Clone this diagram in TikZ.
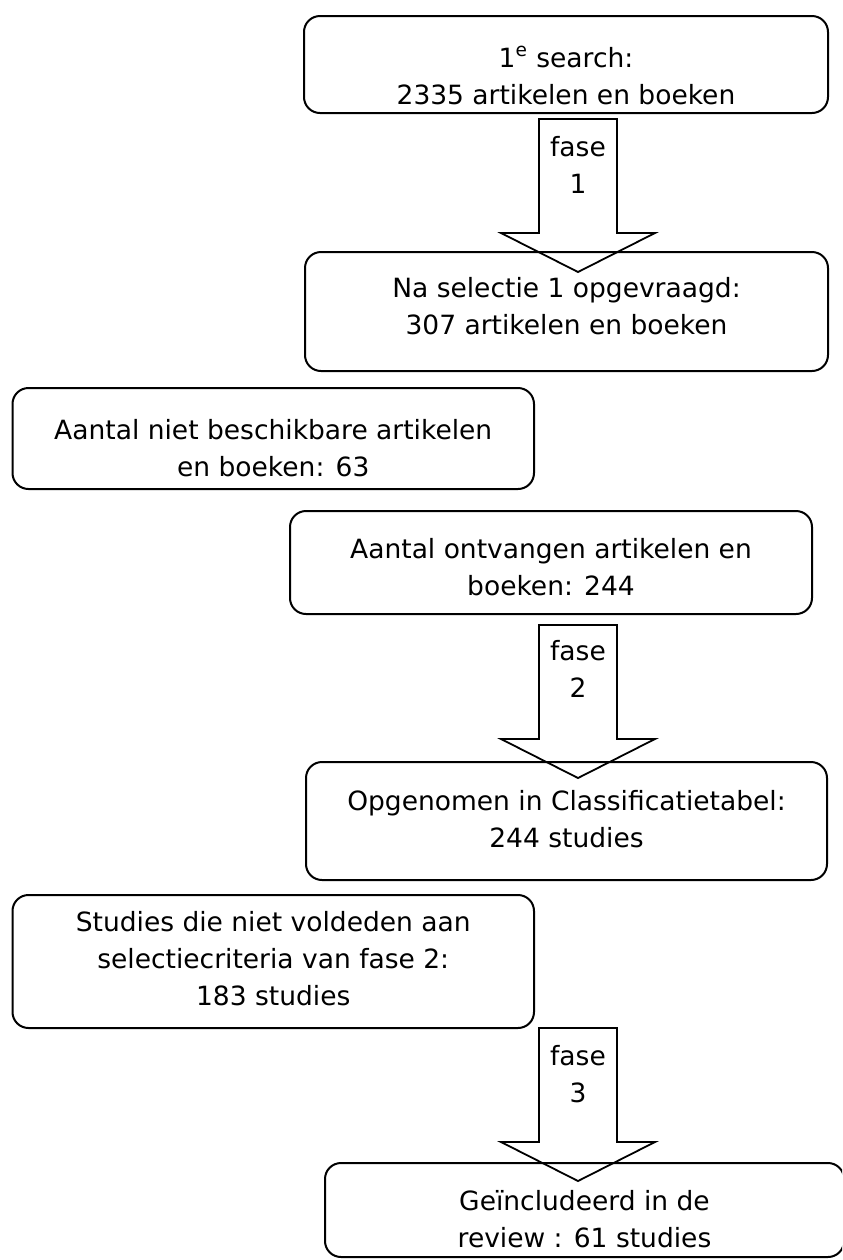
\documentclass[tikz,border=0pt]{standalone}
\usepackage{fontspec}
\setmainfont{DejaVu Sans}
\begin{document}
\begin{tikzpicture}[x=0.5pt,y=-0.5pt,
  box/.style={draw, line width=1pt, rounded corners=8pt, rectangle, inner sep=0pt},
  lbl/.style={align=center, inner sep=0pt, anchor=base, font={\fontsize{13.25pt}{18.5pt}\selectfont}},
  phasearrow/.pic={\draw[line width=0.9pt, line join=miter] (-39,0) -- (39,0) -- (39,114) -- (77,114) -- (0,153) -- (-77,114) -- (-39,114) -- cycle;}
]
\useasboundingbox (0,0) rectangle (842,1260);
\clip (0,0) rectangle (842,1260);

% boxes
\node[box, minimum width=262pt,   minimum height=48.5pt] (b1) at (566,64.5) {};
\node[box, minimum width=261.5pt, minimum height=59.5pt] (b2) at (566.5,311.5) {};
\node[box, minimum width=260.75pt,minimum height=50.5pt] (b3) at (273.25,438.5) {};
\node[box, minimum width=261pt,   minimum height=51.5pt] (b4) at (551,562.5) {};
\node[box, minimum width=260.5pt, minimum height=59pt]   (b5) at (566.5,821) {};
\node[box, minimum width=260.75pt,minimum height=66.5pt] (b6) at (273.25,961.5) {};
\node[box, minimum width=259.5pt, minimum height=47pt]   (b7) at (584.5,1210) {};

% box texts (anchor = baseline of last line)
\node[lbl] (t1) at (566,104) {1\textsuperscript{e} search:\\2335 artikelen en boeken};
\node[lbl] (t2) at (566.5,334) {Na selectie 1 opgevraagd:\\ 307 artikelen en boeken};
\node[lbl] (t3) at (273.25,476) {Aantal niet beschikbare artikelen\\en boeken: 63};
\node[lbl] (t4) at (551,595) {Aantal ontvangen artikelen en\\boeken: 244};
\node[lbl] (t5) at (566.5,847) {Opgenomen in Classificatietabel:\\244 studies};
\node[lbl] (t6) at (273.25,1005) {Studies die niet voldeden aan\\selectiecriteria van fase 2:\\183 studies};
\node[lbl] (t7) at (584.5,1247) {Geïncludeerd in de\\review : 61 studies};

% phase arrows
\coordinate (a1) at (578,119);
\coordinate (a2) at (578,625);
\coordinate (a3) at (578,1028);
\pic at (a1) {phasearrow};
\pic at (a2) {phasearrow};
\pic at (a3) {phasearrow};
\node[lbl] (f1) at ([yshift=-37pt]a1) {fase\\1};
\node[lbl] (f2) at ([yshift=-36pt]a2) {fase\\2};
\node[lbl] (f3) at ([yshift=-37pt]a3) {fase\\3};
\end{tikzpicture}
\end{document}
